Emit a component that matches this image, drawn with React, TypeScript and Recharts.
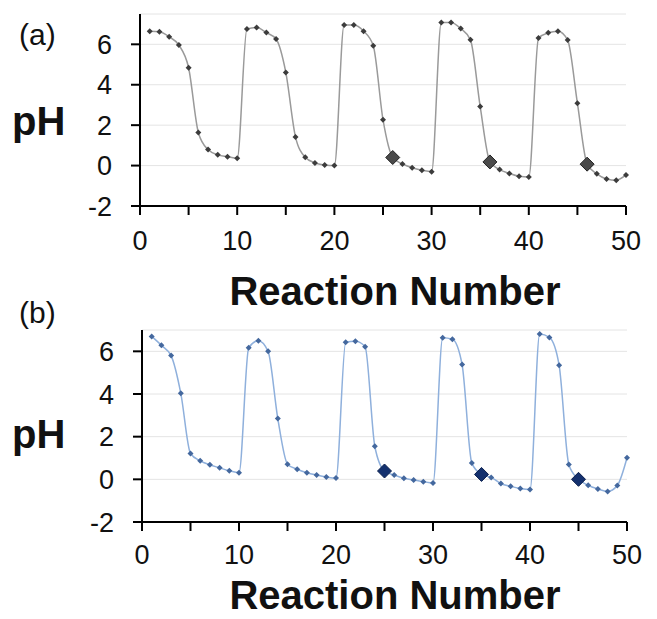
import { LineChart, Line, XAxis, YAxis, CartesianGrid } from "recharts";

const reactions = [
  1, 2, 3, 4, 5, 6, 7, 8, 9, 10, 11, 12, 13, 14, 15, 16, 17, 18, 19, 20, 21, 22, 23, 24, 25,
  26, 27, 28, 29, 30, 31, 32, 33, 34, 35, 36, 37, 38, 39, 40, 41, 42, 43, 44, 45, 46, 47, 48, 49, 50,
];

const phA = [
  6.65, 6.62, 6.37, 5.96, 4.84, 1.64, 0.79, 0.53, 0.44, 0.36,
  6.76, 6.83, 6.58, 6.26, 4.61, 1.41, 0.41, 0.13, 0.03, 0.0,
  6.95, 6.95, 6.65, 5.93, 2.27, 0.4, 0.08, -0.11, -0.23, -0.3,
  7.08, 7.08, 6.78, 6.22, 2.92, 0.18, -0.2, -0.39, -0.53, -0.57,
  6.31, 6.57, 6.65, 6.21, 3.09, 0.07, -0.41, -0.66, -0.72, -0.46,
];

const phB = [
  6.7, 6.28, 5.8, 4.03, 1.21, 0.87, 0.68, 0.54, 0.4, 0.31,
  6.17, 6.5, 6.0, 2.85, 0.71, 0.47, 0.31, 0.2, 0.11, 0.06,
  6.43, 6.47, 6.22, 1.55, 0.39, 0.2, 0.05, -0.03, -0.11, -0.17,
  6.64, 6.57, 5.38, 0.76, 0.23, 0.09, -0.2, -0.33, -0.43, -0.48,
  6.81, 6.65, 5.35, 0.7, 0.0, -0.28, -0.45, -0.57, -0.29, 1.01,
];

// reactions drawn with the big diamond marker
const markedA = [26, 36, 46];
const markedB = [25, 35, 45];

const xTicks = [0, 5, 10, 15, 20, 25, 30, 35, 40, 45, 50];
const yTicks = [-2, 0, 2, 4, 6];

const dataA = reactions.map((r, i) => ({ reaction: r, ph: phA[i] }));
const dataB = reactions.map((r, i) => ({ reaction: r, ph: phB[i] }));

const FONT = "'Liberation Sans', Arial, sans-serif";

function makeDot(marked: number[], small: string, big: string, bigEdge: string) {
  return (props: any) => {
    const { cx, cy, payload, index } = props;
    if (cx == null || cy == null) return <g key={`d${index}`} />;
    if (marked.includes(payload.reaction)) {
      const s = 7;
      return (
        <polygon
          key={`d${index}`}
          points={`${cx},${cy - s} ${cx + s},${cy} ${cx},${cy + s} ${cx - s},${cy}`}
          fill={big}
          stroke={bigEdge}
          strokeWidth={1}
        />
      );
    }
    const s = 3;
    return (
      <polygon
        key={`d${index}`}
        points={`${cx},${cy - s} ${cx + s},${cy} ${cx},${cy + s} ${cx - s},${cy}`}
        fill={small}
      />
    );
  };
}

const tickStyle = { fontSize: 27, fill: "#111", fontFamily: FONT };

function PhChart(props: {
  data: { reaction: number; ph: number }[];
  height: number;
  margin: { top: number; right: number; left: number; bottom: number };
  yMax: number;
  yWidth: number;
  xGap: number;
  lineColor: string;
  dot: (p: any) => any;
}) {
  const { data, height, margin, yMax, yWidth, xGap, lineColor, dot } = props;
  return (
    <LineChart width={657} height={height} data={data} margin={margin}>
      <CartesianGrid vertical={false} stroke="#e4e4e4" strokeWidth={1} />
      <XAxis
        dataKey="reaction"
        type="number"
        domain={[0, 50]}
        ticks={xTicks}
        tickFormatter={(v: number) => (v % 10 === 0 ? String(v) : "")}
        height={50}
        tick={tickStyle}
        tickSize={9}
        tickMargin={xGap}
        axisLine={{ stroke: "#000", strokeWidth: 2 }}
        tickLine={{ stroke: "#000", strokeWidth: 2 }}
      />
      <YAxis
        type="number"
        domain={[-2, yMax]}
        ticks={yTicks}
        width={yWidth}
        tick={tickStyle}
        tickSize={9}
        tickMargin={19}
        axisLine={{ stroke: "#000", strokeWidth: 2 }}
        tickLine={{ stroke: "#000", strokeWidth: 2 }}
      />
      <Line
        type="monotone"
        dataKey="ph"
        stroke={lineColor}
        strokeWidth={1.5}
        dot={dot}
        activeDot={false}
        isAnimationActive={false}
      />
    </LineChart>
  );
}

export default function App() {
  return (
    <div style={{ position: "absolute", left: 0, top: 0, width: 657, height: 619, background: "#fff" }}>
      <div style={{ position: "absolute", left: 0, top: 0 }}>
        <PhChart
          data={dataA}
          height={300}
          margin={{ top: 14, right: 31, left: 0, bottom: 44 }}
          yMax={7.5}
          yWidth={140}
          xGap={16}
          lineColor="#9a9a9a"
          dot={makeDot(markedA, "#3c3c3c", "#4a4a4a", "#222")}
        />
      </div>
      <div style={{ position: "absolute", left: 0, top: 300 }}>
        <PhChart
          data={dataB}
          height={319}
          margin={{ top: 30, right: 30, left: 0, bottom: 47 }}
          yMax={7}
          yWidth={142}
          xGap={14}
          lineColor="#8fb0dc"
          dot={makeDot(markedB, "#44689e", "#13306e", "#0a1f4d")}
        />
      </div>
      <svg
        width={657}
        height={619}
        style={{ position: "absolute", left: 0, top: 0, pointerEvents: "none" }}
        fontFamily={FONT}
      >
        <text x={19} y={45} fontSize={30} fill="#111">(a)</text>
        <text x={19} y={323} fontSize={30} fill="#111">(b)</text>
        <text x={12} y={135} fontSize={40} fontWeight="bold" fill="#111">pH</text>
        <text x={12} y={448} fontSize={40} fontWeight="bold" fill="#111">pH</text>
        <text x={395} y={305} fontSize={40} fontWeight="bold" fill="#111" textAnchor="middle">Reaction Number</text>
        <text x={395} y={609} fontSize={40} fontWeight="bold" fill="#111" textAnchor="middle">Reaction Number</text>
      </svg>
    </div>
  );
}
